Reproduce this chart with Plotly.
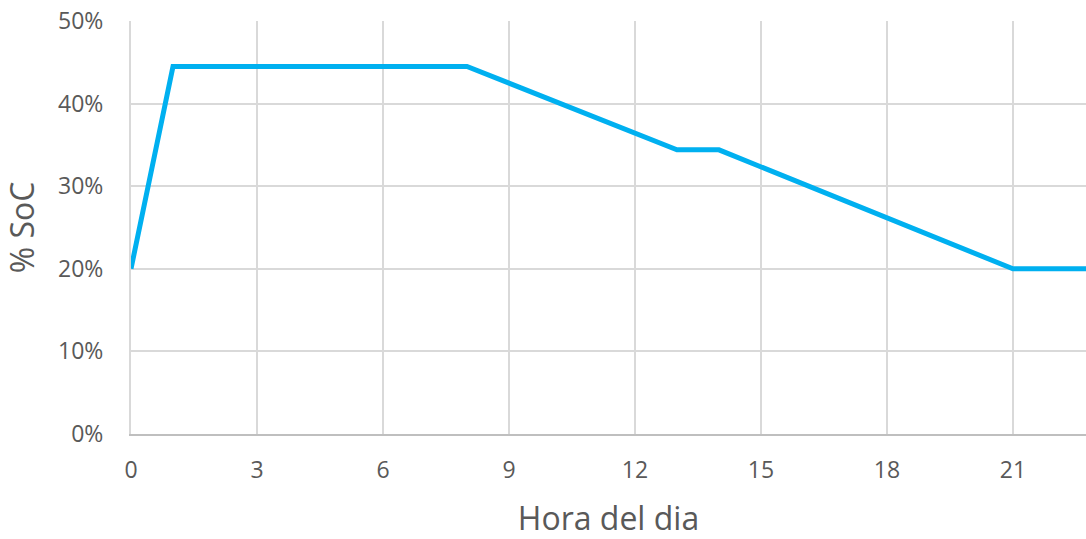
import plotly.graph_objects as go

# Battery state of charge over the day (breakpoints of the profile)
hours = [0, 1, 8, 13, 14, 21, 23]
soc = [0.20, 0.445, 0.445, 0.344, 0.344, 0.20, 0.20]

x_ticks = [0, 3, 6, 9, 12, 15, 18, 21]
y_ticks = [0, 0.1, 0.2, 0.3, 0.4, 0.5]
y_labels = ["0%", "10%", "20%", "30%", "40%", "50%"]

fig = go.Figure()
fig.add_trace(go.Scatter(
    x=hours, y=soc, mode="lines",
    line=dict(color="#00b0f0", width=5),
    cliponaxis=False, showlegend=False,
))

font = "Open Sans, Noto Sans, sans-serif"
fig.update_layout(
    width=1086, height=539,
    margin=dict(l=131, r=0, t=21, b=105),
    plot_bgcolor="white", paper_bgcolor="white",
    font=dict(family=font, color="#595959"),
)
fig.update_xaxes(
    range=[0, 22.74], tickvals=x_ticks, ticktext=[str(t) for t in x_ticks],
    showgrid=True, gridcolor="#d9d9d9", gridwidth=2,
    showline=True, linecolor="#bfbfbf", linewidth=2,
    zeroline=False, ticks="", tickfont=dict(size=23, color="#595959"),
    ticklabelstandoff=14,
    title=dict(text="Hora del dia", font=dict(size=32, color="#595959"), standoff=28),
)
fig.update_yaxes(
    range=[0, 0.5], tickvals=y_ticks, ticktext=y_labels,
    showgrid=True, gridcolor="#d9d9d9", gridwidth=2,
    showline=True, linecolor="#d9d9d9", linewidth=2,
    zeroline=False, ticks="", tickfont=dict(size=23, color="#595959"),
    ticklabelstandoff=21,
    title=dict(text="% SoC", font=dict(size=32, color="#595959"), standoff=19),
)

fig.write_html("out.html")
